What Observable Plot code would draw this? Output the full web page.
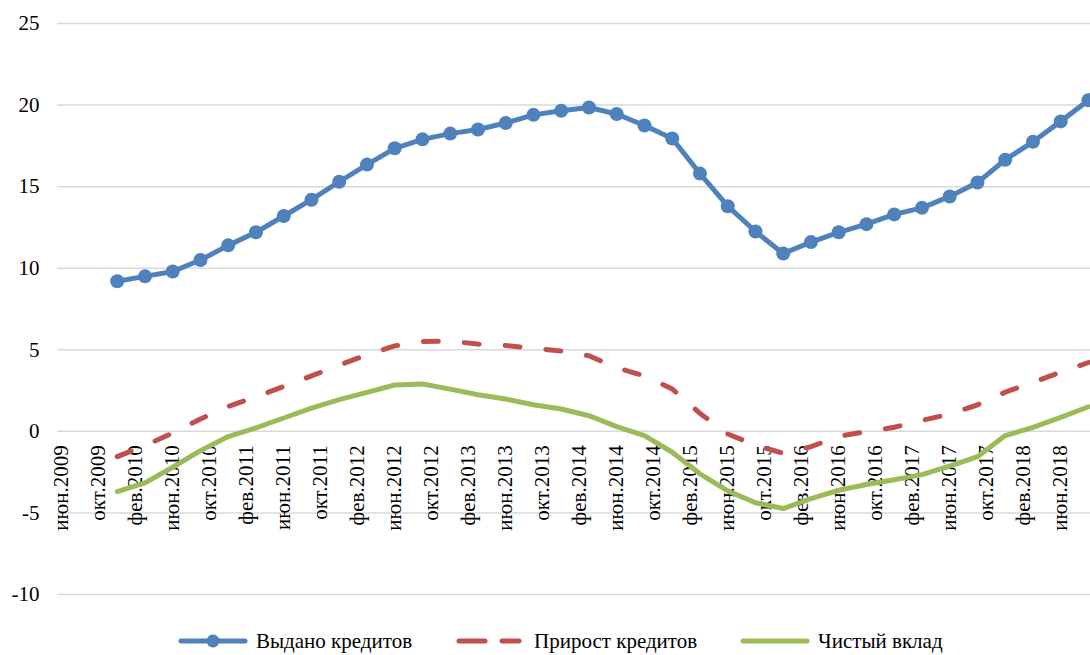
<!DOCTYPE html>
<html>
<head>
<meta charset="utf-8">
<script src="https://cdn.jsdelivr.net/npm/d3@7"></script>
<script src="https://cdn.jsdelivr.net/npm/@observablehq/plot@0.6"></script>
<style>
  html, body { margin: 0; padding: 0; background: #fff; overflow: hidden; }
  #chart svg { display: block; }
  .legend { position: relative; height: 42px; font-family: "Liberation Serif", Tinos, "Times New Roman", Times, "DejaVu Serif", "Noto Serif", serif; font-size: 21px; color: #000; }
  .legend .item { position: absolute; top: 0; height: 42px; display: flex; align-items: center; }
  .legend svg { display: block; margin-right: 8px; }
</style>
</head>
<body>
<div id="chart"></div>
<div class="legend" id="legend"></div>
<script>
// Quarterly observation months
const quarters = [
  "2009-12","2010-03","2010-06","2010-09","2010-12","2011-03","2011-06","2011-09","2011-12",
  "2012-03","2012-06","2012-09","2012-12","2013-03","2013-06","2013-09","2013-12","2014-03",
  "2014-06","2014-09","2014-12","2015-03","2015-06","2015-09","2015-12","2016-03","2016-06",
  "2016-09","2016-12","2017-03","2017-06","2017-09","2017-12","2018-03","2018-06","2018-09"
];
// Выдано кредитов
const vydano = [9.2, 9.5, 9.8, 10.5, 11.4, 12.2, 13.2, 14.2, 15.3, 16.35, 17.35, 17.9,
  18.25, 18.5, 18.9, 19.4, 19.65, 19.85, 19.45, 18.75, 17.95, 15.8, 13.8, 12.25,
  10.9, 11.6, 12.2, 12.7, 13.3, 13.7, 14.4, 15.25, 16.65, 17.75, 19.0, 20.3];
// Прирост кредитов
const prirost = [-1.55, -0.87, -0.1, 0.76, 1.53, 2.12, 2.75, 3.4, 4.06, 4.69, 5.24, 5.5,
  5.53, 5.35, 5.26, 5.1, 4.92, 4.63, 3.9, 3.4, 2.6, 1.1, -0.16, -0.85,
  -1.34, -0.94, -0.3, -0.02, 0.25, 0.67, 1.06, 1.63, 2.4, 3.0, 3.63, 4.22];
// Чистый вклад
const vklad = [-3.69, -3.16, -2.2, -1.18, -0.32, 0.21, 0.82, 1.43, 1.94, 2.39, 2.84, 2.9,
  2.59, 2.24, 1.98, 1.63, 1.37, 0.96, 0.29, -0.26, -1.28, -2.6, -3.65, -4.38,
  -4.73, -4.12, -3.61, -3.26, -2.97, -2.65, -2.13, -1.55, -0.26, 0.25, 0.86, 1.51];

// X-axis tick months (every 4 months)
const tickMonths = [
  "2009-06","2009-10","2010-02","2010-06","2010-10","2011-02","2011-06","2011-10",
  "2012-02","2012-06","2012-10","2013-02","2013-06","2013-10","2014-02","2014-06",
  "2014-10","2015-02","2015-06","2015-10","2016-02","2016-06","2016-10","2017-02",
  "2017-06","2017-10","2018-02","2018-06"
];
const monthNames = {"02": "фев", "06": "июн", "10": "окт"};
const yTicks = [-10, -5, 0, 5, 10, 15, 20, 25];

const seriesNames = ["Выдано кредитов", "Прирост кредитов", "Чистый вклад"];
const colors = ["#4F81BD", "#C0504D", "#9BBB59"];

// month slot index (June 2009 = 0), centred in its slot
const pos = s => (+s.slice(0, 4) - 2009) * 12 + (+s.slice(5, 7) - 6) + 0.5;
const tickLabel = s => monthNames[s.slice(5, 7)] + "." + s.slice(0, 4);

const rows = quarters.map((q, i) => ({q, t: pos(q), vydano: vydano[i], prirost: prirost[i], vklad: vklad[i]}));
const font = '"Liberation Serif", Tinos, "Times New Roman", Times, "DejaVu Serif", "Noto Serif", serif';

const plot = Plot.plot({
  width: 1090,
  height: 620,
  marginLeft: 57,
  marginRight: 0,
  marginTop: 23,
  marginBottom: 26,
  style: {fontFamily: font, fontSize: "21px", color: "#000", background: "#fff", overflow: "visible"},
  x: {type: "linear", domain: [0, 112], range: [56.6, 1092.6], axis: null},
  y: {domain: [-10, 25], ticks: yTicks, tickSize: 0, tickPadding: 18, label: null, tickFormat: d => String(d)},
  marks: [
    Plot.ruleY(yTicks, {stroke: "#D9D9D9", strokeWidth: 1.5}),
    Plot.text(tickMonths, {x: d => pos(d), y: () => 0, text: tickLabel, rotate: -90, textAnchor: "end", dy: 14, fontSize: 21, fill: "#000", fontFamily: font}),
    Plot.line(rows, {x: "t", y: "vydano", stroke: colors[0], strokeWidth: 5, strokeLinejoin: "round"}),
    Plot.dot(rows, {x: "t", y: "vydano", r: 7, fill: colors[0], stroke: "none"}),
    Plot.line(rows, {x: "t", y: "prirost", stroke: colors[1], strokeWidth: 5, strokeDasharray: "15,26", strokeLinecap: "round"}),
    Plot.line(rows, {x: "t", y: "vklad", stroke: colors[2], strokeWidth: 5, strokeLinejoin: "round"})
  ]
});
plot.style.fontFamily = font;
document.getElementById("chart").appendChild(plot);

// Legend
const legend = document.getElementById("legend");
const items = [
  {left: 178, swatch: `<svg width="70" height="16"><line x1="3" y1="8" x2="67" y2="8" stroke="${colors[0]}" stroke-width="5" stroke-linecap="round"/><circle cx="35" cy="8" r="6.5" fill="${colors[0]}"/></svg>`},
  {left: 456, swatch: `<svg width="70" height="16"><line x1="3" y1="8" x2="29" y2="8" stroke="${colors[1]}" stroke-width="5" stroke-linecap="round"/><line x1="46" y1="8" x2="63" y2="8" stroke="${colors[1]}" stroke-width="5" stroke-linecap="round"/></svg>`},
  {left: 740, swatch: `<svg width="70" height="16"><line x1="3" y1="8" x2="67" y2="8" stroke="${colors[2]}" stroke-width="5" stroke-linecap="round"/></svg>`}
];
items.forEach((it, i) => {
  const d = document.createElement("div");
  d.className = "item";
  d.style.left = it.left + "px";
  d.innerHTML = it.swatch + `<span>${seriesNames[i]}</span>`;
  legend.appendChild(d);
});
</script>
</body>
</html>
